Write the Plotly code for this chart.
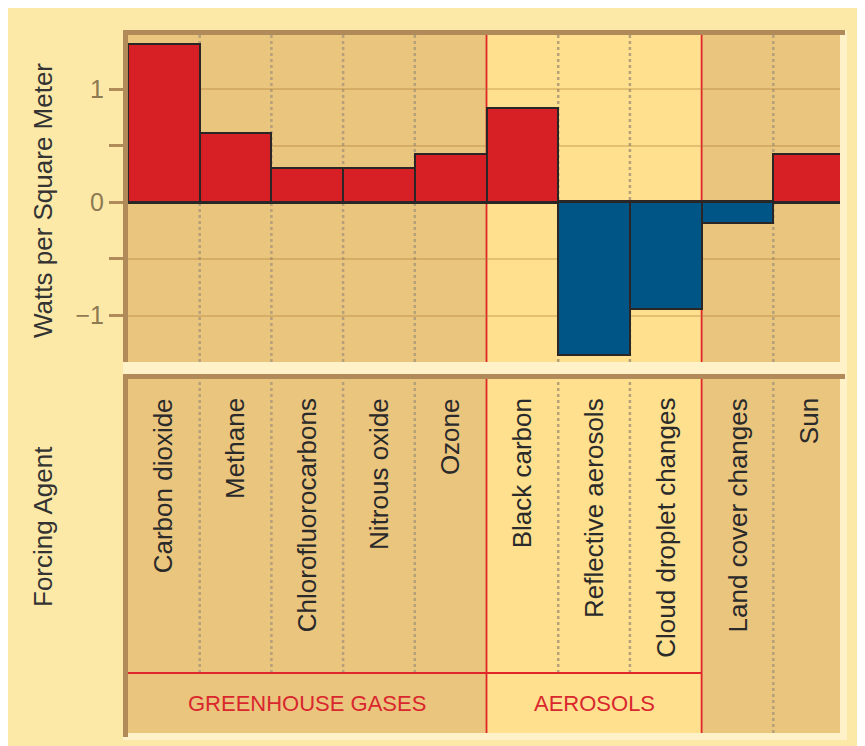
import plotly.graph_objects as go

# ---- data ----
categories = ["Carbon dioxide", "Methane", "Chlorofluorocarbons", "Nitrous oxide", "Ozone",
              "Black carbon", "Reflective aerosols", "Cloud droplet changes",
              "Land cover changes", "Sun"]
forcing = [1.40, 0.61, 0.30, 0.30, 0.43, 0.83, -1.35, -0.94, -0.18, 0.43]
groups = ["GREENHOUSE GASES", "AEROSOLS"]
group_centers = [2, 6]
tick_vals = [-1, -0.5, 0, 0.5, 1]
tick_text = ["\u22121", "", "0", "", "1"]

RED = "#D71F26"
BLUE = "#005587"
TAN = "#EAC57E"
LIGHT = "#FEE08F"
OUTER = "#FDE9A7"
CREAM = "#FFF2C8"
BROWN = "#B08A58"
LINERED = "#E0262B"
DOT = "#B5A07A"
FONT = "Liberation Sans, Arial, sans-serif"

W, H = 865, 746
ML, MR, MT, MB = 120, 33, 27, 21
PW, PH = W - ML - MR, H - MT - MB
UP0 = 0.5315
LOW1 = 0.5072

colors = [RED if v >= 0 else BLUE for v in forcing]

fig = go.Figure()
fig.add_trace(go.Bar(x=categories, y=forcing, width=1.0,
                     marker=dict(color=colors, line=dict(color="#2A2626", width=2)),
                     hoverinfo="skip", showlegend=False))
fig.add_trace(go.Scatter(x=[categories[0]], y=[-10], yaxis="y2", mode="markers",
                         marker=dict(opacity=0), hoverinfo="skip", showlegend=False))

shapes = []
# section backgrounds
sections = [(-0.5, 4.5, TAN), (4.5, 7.5, LIGHT), (7.5, 9.43, TAN)]
for x0, x1, c in sections:
    for yr in ["y domain", "y2 domain"]:
        shapes.append(dict(type="rect", xref="x", yref=yr, x0=x0, x1=x1, y0=0, y1=1,
                           fillcolor=c, line=dict(width=0), layer="below"))
# dotted separators
for xv in [0.5, 1.5, 2.5, 3.5, 5.5, 6.5]:
    shapes.append(dict(type="line", xref="x", yref="y domain", x0=xv, x1=xv, y0=0, y1=1,
                       line=dict(color=DOT, width=2.5, dash="dot"), layer="below"))
    shapes.append(dict(type="line", xref="x", yref="y2", x0=xv, x1=xv, y0=0.1695, y1=1,
                       line=dict(color=DOT, width=2.5, dash="dot"), layer="below"))
shapes.append(dict(type="line", xref="x", yref="y domain", x0=8.5, x1=8.5, y0=0, y1=1,
                   line=dict(color=DOT, width=2.5, dash="dot"), layer="below"))
shapes.append(dict(type="line", xref="x", yref="y2", x0=8.5, x1=8.5, y0=0, y1=1,
                   line=dict(color=DOT, width=2.5, dash="dot"), layer="below"))
# red group separators
for xv in [4.5, 7.5]:
    for yr in ["y domain", "y2 domain"]:
        shapes.append(dict(type="line", xref="x", yref=yr, x0=xv, x1=xv, y0=0, y1=1,
                           line=dict(color=LINERED, width=1.8), layer="below"))
shapes.append(dict(type="line", xref="x", yref="y2", x0=-0.5, x1=7.5, y0=0.1695, y1=0.1695,
                   line=dict(color=LINERED, width=1.8), layer="below"))

px = 1.0 / PW
py = 1.0 / PH
# cream highlight strips
shapes += [
    dict(type="rect", xref="paper", yref="paper", x0=-5 * px, x1=1 + 7 * px, y0=LOW1 + 5 * py, y1=UP0,
         fillcolor=CREAM, line=dict(width=0), layer="above"),
    dict(type="rect", xref="paper", yref="paper", x0=1, x1=1 + 7 * px, y0=-7 * py, y1=1 + 5 * py,
         fillcolor=CREAM, line=dict(width=0), layer="above"),
    dict(type="rect", xref="paper", yref="paper", x0=-5 * px, x1=1 + 7 * px, y0=-7 * py, y1=0,
         fillcolor=CREAM, line=dict(width=0), layer="above"),
]
# brown borders
shapes += [
    dict(type="rect", xref="paper", yref="paper", x0=-5 * px, x1=1 + 5 * px, y0=1, y1=1 + 5 * py,
         fillcolor=BROWN, line=dict(width=0), layer="above"),
    dict(type="rect", xref="paper", yref="paper", x0=-5 * px, x1=0, y0=UP0, y1=1 + 5 * py,
         fillcolor=BROWN, line=dict(width=0), layer="above"),
    dict(type="rect", xref="paper", yref="paper", x0=-5 * px, x1=1 + 5 * px, y0=LOW1, y1=LOW1 + 5 * py,
         fillcolor=BROWN, line=dict(width=0), layer="above"),
    dict(type="rect", xref="paper", yref="paper", x0=-5 * px, x1=0, y0=-4 * py, y1=LOW1 + 5 * py,
         fillcolor=BROWN, line=dict(width=0), layer="above"),
]

annotations = []
for c in categories:
    annotations.append(dict(x=c, y=0.952, xref="x", yref="y2", text=c, textangle=-90,
                            xanchor="center", yanchor="top", showarrow=False,
                            font=dict(family=FONT, size=26, color="#2A2A2A")))
for g, cx in zip(groups, group_centers):
    annotations.append(dict(x=cx, y=0.0833, xref="x", yref="y2", text=g, showarrow=False,
                            xanchor="center", yanchor="middle",
                            font=dict(family=FONT, size=22, color="#D9272E")))
annotations.append(dict(x=(35 - ML) * px, y=(PH + MT - 193) * py, xref="paper", yref="paper",
                        text="Watts per Square Meter", textangle=-90, showarrow=False,
                        xanchor="center", yanchor="middle",
                        font=dict(family=FONT, size=26, color="#333333")))
annotations.append(dict(x=(35 - ML) * px, y=(PH + MT - 519) * py, xref="paper", yref="paper",
                        text="Forcing Agent", textangle=-90, showarrow=False,
                        xanchor="center", yanchor="middle",
                        font=dict(family=FONT, size=26, color="#333333")))

fig.update_layout(
    width=W, height=H,
    margin=dict(l=ML, r=MR, t=MT, b=MB, pad=0),
    paper_bgcolor=OUTER, plot_bgcolor="rgba(0,0,0,0)",
    bargap=0, showlegend=False,
    xaxis=dict(type="category", categoryorder="array", categoryarray=categories,
               range=[-0.5, 9.43], showticklabels=False, ticks="", showgrid=False,
               zeroline=False, showline=False, anchor="y", fixedrange=True),
    yaxis=dict(domain=[UP0, 1], range=[-1.41, 1.477], tickvals=tick_vals, ticktext=tick_text,
               ticks="outside", ticklen=18, tickwidth=3, tickcolor=BROWN,
               tickfont=dict(family=FONT, size=25, color="#8E7A52"),
               showgrid=True, gridcolor="rgba(170,120,50,0.30)", gridwidth=1.5,
               zeroline=True, zerolinecolor="#2A2626", zerolinewidth=4,
               showline=False, anchor="x", fixedrange=True),
    yaxis2=dict(domain=[0, LOW1], range=[0, 1], showticklabels=False, ticks="",
                showgrid=False, zeroline=False, showline=False, anchor="x", fixedrange=True),
    shapes=shapes, annotations=annotations,
)

fig.write_html("out.html")
